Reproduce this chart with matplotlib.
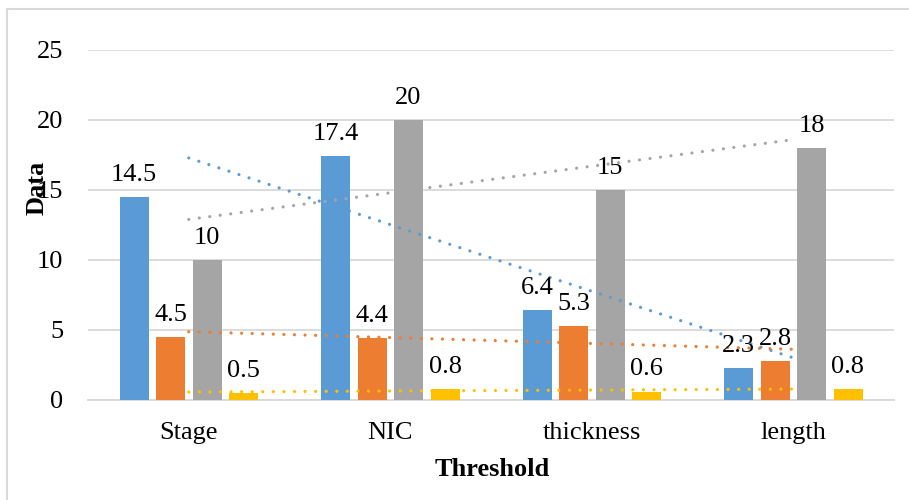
import numpy as np
import matplotlib.pyplot as plt
from matplotlib.lines import Line2D

# datos
categorias = ['Stage', 'NIC', 'thickness', 'length']
serie1 = [14.5, 17.4, 6.4, 2.3]
serie2 = [4.5, 4.4, 5.3, 2.8]
serie3 = [10, 20, 15, 18]
serie4 = [0.5, 0.8, 0.6, 0.8]
colores = ['#5B9BD5', '#ED7D31', '#A5A5A5', '#FFC000']

plt.rcParams['font.family'] = ['Liberation Serif', 'DejaVu Serif']

fig = plt.figure(figsize=(9.09, 5), dpi=100)
W, H = 909, 500
ax = fig.add_axes([88 / W, 1 - 400 / H, (894 - 88) / W, 350 / H])

x = np.arange(len(categorias))
ancho = 29 / 201.5
paso = 36.5 / 201.5
series = [serie1, serie2, serie3, serie4]

for i, (s, c) in enumerate(zip(series, colores)):
    pos = x + (i - 1.5) * paso
    ax.bar(pos, s, width=ancho, color=c, zorder=3)
    for xp, v in zip(pos, s):
        ax.annotate(f'{v:g}', (xp, v), xytext=(0, 8), textcoords='offset points',
                    ha='center', va='bottom', fontsize=19, zorder=6)

# lineas de tendencia lineales
for s, c in zip(series, colores):
    m, b = np.polyfit(x, s, 1)
    ax.plot(x, m * x + b, color=c, linewidth=2.3, linestyle=(0, (0.01, 3.3)),
            dash_capstyle='round', zorder=4)

ax.set_xlim(-0.5, 3.5)
ax.set_ylim(0, 25)
ax.set_yticks(range(0, 26, 5))
ax.set_xticks(x)
ax.set_xticklabels(categorias)
ax.tick_params(axis='both', length=0, labelsize=19)
ax.tick_params(axis='y', pad=18)
ax.tick_params(axis='x', pad=16)
ax.grid(axis='y', color='#D9D9D9', linewidth=1.3, zorder=0)
for lado in ['top', 'right', 'left']:
    ax.spines[lado].set_visible(False)
ax.spines['bottom'].set_color('#D9D9D9')
ax.spines['bottom'].set_linewidth(1.3)

fig.text(492 / W, 1 - 470 / H, 'Threshold', ha='center', va='center',
         fontsize=19, fontweight='bold')
fig.text(37 / W, 1 - 188 / H, 'Data', ha='center', va='center',
         fontsize=19, fontweight='bold', rotation=90)

# borde del grafico
fig.add_artist(Line2D([7 / W, 7 / W], [0, 1 - 9 / H], color='#D9D9D9', linewidth=1.5))
fig.add_artist(Line2D([7 / W, 1], [1 - 9 / H, 1 - 9 / H], color='#D9D9D9', linewidth=1.5))

fig.savefig('out.png', dpi=100)
